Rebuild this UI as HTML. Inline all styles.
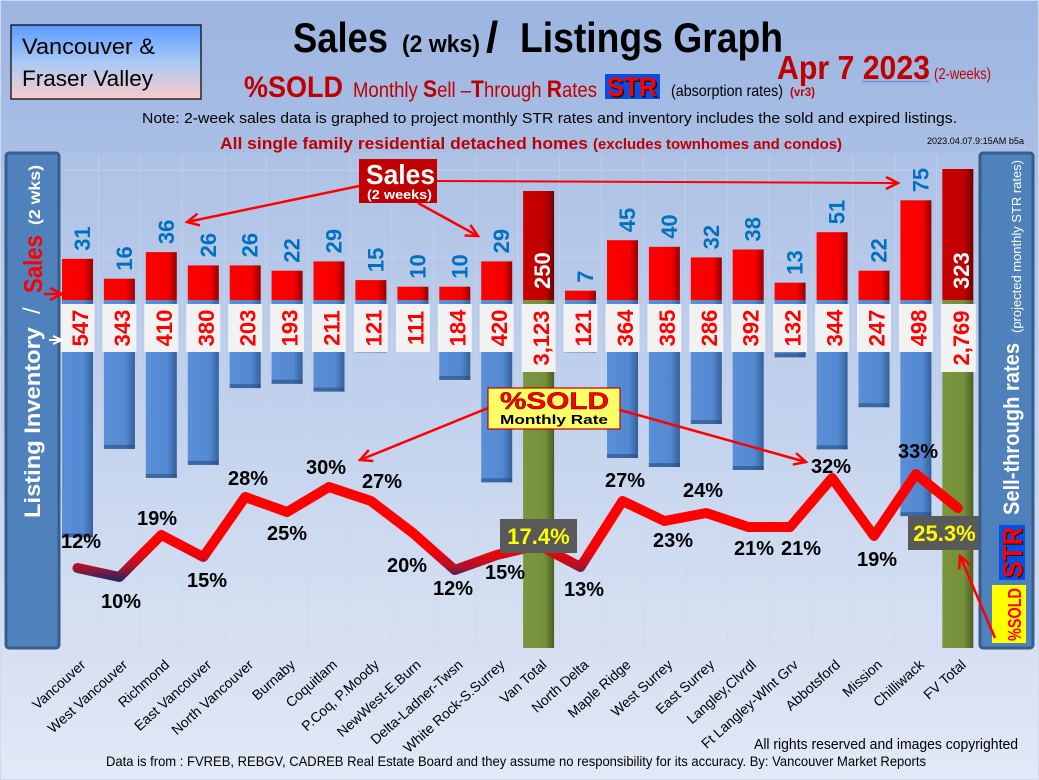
<!DOCTYPE html>
<html><head><meta charset="utf-8">
<style>
html,body{margin:0;padding:0;background:#c0d0ec}
svg{display:block}
.s{font-family:"Liberation Sans",sans-serif;font-weight:bold;font-size:22px;fill:#0070c0}
.i{font-family:"Liberation Sans",sans-serif;font-weight:bold;font-size:22px;fill:#ff0000;text-anchor:middle}
.p{font-family:"Liberation Sans",sans-serif;font-weight:bold;font-size:20px;fill:#000}
.c{font-family:"Liberation Sans",sans-serif;font-size:14px;fill:#000;text-anchor:end}
</style></head>
<body>
<svg width="1039" height="780" viewBox="0 0 1039 780" xmlns="http://www.w3.org/2000/svg" font-family="Liberation Sans, sans-serif">
<defs>
<linearGradient id="bg" x1="0" y1="0" x2="0" y2="1">
<stop offset="0" stop-color="#9cb5e1"/><stop offset="0.45" stop-color="#b9cbea"/><stop offset="1" stop-color="#e2e9f6"/>
</linearGradient>
<linearGradient id="vbox" x1="0" y1="0" x2="0" y2="1">
<stop offset="0" stop-color="#5a9aff"/><stop offset="0.5" stop-color="#a9c9f6"/><stop offset="1" stop-color="#fbcaca"/>
</linearGradient>
<linearGradient id="red" x1="0" y1="0" x2="1" y2="0">
<stop offset="0" stop-color="#ff0000"/><stop offset="0.72" stop-color="#f60000"/><stop offset="1" stop-color="#960000"/>
</linearGradient>
<linearGradient id="dred" x1="0" y1="0" x2="1" y2="0">
<stop offset="0" stop-color="#c80000"/><stop offset="0.72" stop-color="#c00000"/><stop offset="1" stop-color="#6a0000"/>
</linearGradient>
<linearGradient id="blue" x1="0" y1="0" x2="1" y2="0">
<stop offset="0" stop-color="#5b8fd7"/><stop offset="0.7" stop-color="#5389d2"/><stop offset="1" stop-color="#33609a"/>
</linearGradient>
<linearGradient id="green" x1="0" y1="0" x2="1" y2="0">
<stop offset="0" stop-color="#7a963e"/><stop offset="0.7" stop-color="#74903a"/><stop offset="1" stop-color="#4a5e22"/>
</linearGradient>
<linearGradient id="lineg" gradientUnits="userSpaceOnUse" x1="0" y1="470" x2="0" y2="582">
<stop offset="0" stop-color="#ff0000"/><stop offset="0.70" stop-color="#ff0000"/><stop offset="0.86" stop-color="#b3102a"/><stop offset="0.96" stop-color="#40205c"/><stop offset="1" stop-color="#302060"/>
</linearGradient>
<marker id="ah" markerUnits="userSpaceOnUse" markerWidth="16" markerHeight="16" viewBox="0 0 16 16" refX="14" refY="8" orient="auto">
<path d="M2,2 L14,8 L2,14" fill="none" stroke="#ff0000" stroke-width="2.5"/>
</marker>
<marker id="ahw" markerUnits="userSpaceOnUse" markerWidth="12" markerHeight="12" viewBox="0 0 12 12" refX="11" refY="6" orient="auto">
<path d="M2,2 L11,6 L2,10" fill="none" stroke="#ffffff" stroke-width="2"/>
</marker>
</defs>

<rect x="0" y="0" width="1039" height="780" fill="url(#bg)"/>
<rect x="0.5" y="0.5" width="1038" height="779" fill="none" stroke="#cfdaf0" stroke-width="1"/>

<!-- plot area -->
<rect x="57" y="153" width="922" height="495" fill="#ffffff" opacity="0.06"/>
<g stroke="#c9d7ee" stroke-width="1" opacity="0.6">
<line x1="98.5" y1="155" x2="98.5" y2="648"/><line x1="140.4" y1="155" x2="140.4" y2="648"/><line x1="182.3" y1="155" x2="182.3" y2="648"/><line x1="224.2" y1="155" x2="224.2" y2="648"/><line x1="266.1" y1="155" x2="266.1" y2="648"/><line x1="308" y1="155" x2="308" y2="648"/><line x1="350" y1="155" x2="350" y2="648"/><line x1="391.9" y1="155" x2="391.9" y2="648"/><line x1="433.8" y1="155" x2="433.8" y2="648"/><line x1="475.7" y1="155" x2="475.7" y2="648"/><line x1="517.6" y1="155" x2="517.6" y2="648"/><line x1="559.6" y1="155" x2="559.6" y2="648"/><line x1="601.5" y1="155" x2="601.5" y2="648"/><line x1="643.4" y1="155" x2="643.4" y2="648"/><line x1="685.3" y1="155" x2="685.3" y2="648"/><line x1="727.2" y1="155" x2="727.2" y2="648"/><line x1="769.2" y1="155" x2="769.2" y2="648"/><line x1="811.1" y1="155" x2="811.1" y2="648"/><line x1="853" y1="155" x2="853" y2="648"/><line x1="894.9" y1="155" x2="894.9" y2="648"/><line x1="936.8" y1="155" x2="936.8" y2="648"/>
<line x1="57" y1="170" x2="979" y2="170"/><line x1="57" y1="258" x2="979" y2="258"/><line x1="57" y1="343" x2="979" y2="343"/><line x1="57" y1="388" x2="979" y2="388"/><line x1="57" y1="473" x2="979" y2="473"/><line x1="57" y1="558" x2="979" y2="558"/><line x1="57" y1="646" x2="979" y2="646"/>
</g>

<!-- header -->
<rect x="11" y="25" width="190" height="74" fill="url(#vbox)" stroke="#000" stroke-width="1.2"/>
<text x="22" y="54" font-size="22" textLength="133" lengthAdjust="spacingAndGlyphs">Vancouver &amp;</text>
<text x="22" y="86" font-size="22" textLength="131" lengthAdjust="spacingAndGlyphs">Fraser Valley</text>

<text x="293" y="52" font-size="42" font-weight="bold" textLength="95" lengthAdjust="spacingAndGlyphs">Sales</text>
<text x="402" y="52" font-size="24" font-weight="bold" textLength="78" lengthAdjust="spacingAndGlyphs">(2 wks)</text>
<text x="486" y="52" font-size="44" font-weight="bold">/</text>
<text x="520" y="52" font-size="42" font-weight="bold" textLength="263" lengthAdjust="spacingAndGlyphs">Listings Graph</text>

<text x="244" y="97" font-size="30" font-weight="bold" fill="#c00000" textLength="99" lengthAdjust="spacingAndGlyphs">%SOLD</text>
<text x="353" y="97" font-size="21" fill="#c00000" textLength="244" lengthAdjust="spacingAndGlyphs">Monthly <tspan font-weight="bold" font-size="24">S</tspan>ell –<tspan font-weight="bold" font-size="24">T</tspan>hrough <tspan font-weight="bold" font-size="24">R</tspan>ates</text>
<rect x="605" y="74" width="55" height="25" fill="#0050e6"/>
<text x="608.5" y="97.5" font-size="27" font-weight="bold" fill="#3a0000" textLength="50" lengthAdjust="spacingAndGlyphs">STR</text>
<text x="607" y="96" font-size="27" font-weight="bold" fill="#ff0000" textLength="50" lengthAdjust="spacingAndGlyphs">STR</text>
<text x="671" y="96" font-size="16" textLength="112" lengthAdjust="spacingAndGlyphs">(absorption rates)</text>
<text x="790" y="96" font-size="12" font-weight="bold" fill="#c00000" textLength="25" lengthAdjust="spacingAndGlyphs">(vr3)</text>

<text x="777" y="79" font-size="33" font-weight="bold" fill="#c00000" textLength="153" lengthAdjust="spacingAndGlyphs">Apr 7 2023</text>
<line x1="862" y1="81.5" x2="930" y2="81.5" stroke="#6e8fd0" stroke-width="1.5"/>
<line x1="862" y1="84.5" x2="930" y2="84.5" stroke="#9ab8ec" stroke-width="1.5"/>
<text x="934" y="79" font-size="16" fill="#c00000" textLength="57" lengthAdjust="spacingAndGlyphs">(2-weeks)</text>

<text x="142" y="123" font-size="15" textLength="815" lengthAdjust="spacingAndGlyphs">Note: 2-week sales data is graphed to project monthly STR rates and inventory includes the sold and expired listings.</text>
<text x="220" y="149" font-size="16.5" font-weight="bold" fill="#c00000" textLength="368" lengthAdjust="spacingAndGlyphs">All single family residential detached homes</text>
<text x="593" y="149" font-size="14.5" font-weight="bold" fill="#c00000" textLength="249" lengthAdjust="spacingAndGlyphs">(excludes townhomes and condos)</text>
<text x="927" y="144" font-size="9.5" textLength="97" lengthAdjust="spacingAndGlyphs">2023.04.07.9:15AM b5a</text>

<!-- blue inventory bars -->
<g fill="url(#blue)">
<rect x="62" y="300" width="31" height="237.4"/>
<rect x="103.9" y="300" width="31" height="148.9"/>
<rect x="145.8" y="300" width="31" height="177.9"/>
<rect x="187.8" y="300" width="31" height="164.9"/>
<rect x="229.7" y="300" width="31" height="88.1"/>
<rect x="271.6" y="300" width="31" height="83.8"/>
<rect x="313.5" y="300" width="31" height="91.6"/>
<rect x="355.4" y="300" width="31" height="52.5"/>
<rect x="397.4" y="300" width="31" height="48.2"/>
<rect x="439.3" y="300" width="31" height="79.9"/>
<rect x="481.2" y="300" width="31" height="182.3"/>
<rect x="565" y="300" width="31" height="52.5"/>
<rect x="607" y="300" width="31" height="158"/>
<rect x="648.9" y="300" width="31" height="167"/>
<rect x="690.8" y="300" width="31" height="124"/>
<rect x="732.7" y="300" width="31" height="170"/>
<rect x="774.6" y="300" width="31" height="57.3"/>
<rect x="816.6" y="300" width="31" height="149.3"/>
<rect x="858.5" y="300" width="31" height="107.2"/>
<rect x="900.4" y="300" width="31" height="216.1"/>
</g>
<g fill="#24497a" opacity="0.55">
<rect x="62" y="533.4" width="31" height="4"/>
<rect x="103.9" y="444.9" width="31" height="4"/>
<rect x="145.8" y="473.9" width="31" height="4"/>
<rect x="187.8" y="460.9" width="31" height="4"/>
<rect x="229.7" y="384.1" width="31" height="4"/>
<rect x="271.6" y="379.8" width="31" height="4"/>
<rect x="313.5" y="387.6" width="31" height="4"/>
<rect x="439.3" y="375.9" width="31" height="4"/>
<rect x="481.2" y="478.3" width="31" height="4"/>
<rect x="607" y="454" width="31" height="4"/>
<rect x="648.9" y="463" width="31" height="4"/>
<rect x="690.8" y="420" width="31" height="4"/>
<rect x="732.7" y="466" width="31" height="4"/>
<rect x="774.6" y="353.3" width="31" height="4"/>
<rect x="816.6" y="445.3" width="31" height="4"/>
<rect x="858.5" y="403.2" width="31" height="4"/>
<rect x="900.4" y="512.1" width="31" height="4"/>
</g>
<!-- green totals -->
<rect x="523.1" y="300" width="31" height="348" fill="url(#green)"/>
<rect x="942.3" y="300" width="31" height="348" fill="url(#green)"/>

<!-- red sales bars -->
<g fill="url(#red)">
<rect x="62" y="258.8" width="31" height="41.2"/>
<rect x="103.9" y="278.7" width="31" height="21.3"/>
<rect x="145.8" y="252.1" width="31" height="47.9"/>
<rect x="187.8" y="265.4" width="31" height="34.6"/>
<rect x="229.7" y="265.4" width="31" height="34.6"/>
<rect x="271.6" y="270.7" width="31" height="29.3"/>
<rect x="313.5" y="261.4" width="31" height="38.6"/>
<rect x="355.4" y="280.1" width="31" height="19.9"/>
<rect x="397.4" y="286.7" width="31" height="13.3"/>
<rect x="439.3" y="286.7" width="31" height="13.3"/>
<rect x="481.2" y="261.4" width="31" height="38.6"/>
<rect x="565" y="290.7" width="31" height="9.3"/>
<rect x="607" y="240.2" width="31" height="59.8"/>
<rect x="648.9" y="246.8" width="31" height="53.2"/>
<rect x="690.8" y="257.4" width="31" height="42.6"/>
<rect x="732.7" y="249.5" width="31" height="50.5"/>
<rect x="774.6" y="282.7" width="31" height="17.3"/>
<rect x="816.6" y="232.2" width="31" height="67.8"/>
<rect x="858.5" y="270.7" width="31" height="29.3"/>
<rect x="900.4" y="200.3" width="31" height="99.7"/>
</g>
<rect x="523.1" y="191" width="31" height="109" fill="url(#dred)"/>
<rect x="942.3" y="169" width="31" height="131" fill="url(#dred)"/>

<!-- sales labels -->
<text class="s" transform="translate(90,250.8) rotate(-90)">31</text>
<text class="s" transform="translate(131.9,270.7) rotate(-90)">16</text>
<text class="s" transform="translate(173.8,244.1) rotate(-90)">36</text>
<text class="s" transform="translate(215.8,257.4) rotate(-90)">26</text>
<text class="s" transform="translate(257.7,257.4) rotate(-90)">26</text>
<text class="s" transform="translate(299.6,262.7) rotate(-90)">22</text>
<text class="s" transform="translate(341.5,253.4) rotate(-90)">29</text>
<text class="s" transform="translate(383.4,272.1) rotate(-90)">15</text>
<text class="s" transform="translate(425.4,278.7) rotate(-90)">10</text>
<text class="s" transform="translate(467.3,278.7) rotate(-90)">10</text>
<text class="s" transform="translate(509.2,253.4) rotate(-90)">29</text>
<text class="s" transform="translate(550,289) rotate(-90)" style="fill:#ffffff">250</text>
<text class="s" transform="translate(593,282.7) rotate(-90)">7</text>
<text class="s" transform="translate(635,232.2) rotate(-90)">45</text>
<text class="s" transform="translate(676.9,238.8) rotate(-90)">40</text>
<text class="s" transform="translate(718.8,249.4) rotate(-90)">32</text>
<text class="s" transform="translate(760.7,241.5) rotate(-90)">38</text>
<text class="s" transform="translate(802.6,274.7) rotate(-90)">13</text>
<text class="s" transform="translate(844.6,224.2) rotate(-90)">51</text>
<text class="s" transform="translate(886.5,262.7) rotate(-90)">22</text>
<text class="s" transform="translate(928.4,192.3) rotate(-90)">75</text>
<text class="s" transform="translate(969,289) rotate(-90)" style="fill:#ffffff">323</text>

<!-- inventory label boxes -->
<g fill="#f2f2f2">
<rect x="60.5" y="304" width="34" height="48"/>
<rect x="102.4" y="304" width="34" height="48"/>
<rect x="144.3" y="304" width="34" height="48"/>
<rect x="186.3" y="304" width="34" height="48"/>
<rect x="228.2" y="304" width="34" height="48"/>
<rect x="270.1" y="304" width="34" height="48"/>
<rect x="312" y="304" width="34" height="48"/>
<rect x="353.9" y="304" width="34" height="48"/>
<rect x="395.9" y="304" width="34" height="48"/>
<rect x="437.8" y="304" width="34" height="48"/>
<rect x="479.7" y="304" width="34" height="48"/>
<rect x="521.6" y="304" width="34" height="68"/>
<rect x="563.5" y="304" width="34" height="48"/>
<rect x="605.5" y="304" width="34" height="48"/>
<rect x="647.4" y="304" width="34" height="48"/>
<rect x="689.3" y="304" width="34" height="48"/>
<rect x="731.2" y="304" width="34" height="48"/>
<rect x="773.1" y="304" width="34" height="48"/>
<rect x="815.1" y="304" width="34" height="48"/>
<rect x="857" y="304" width="34" height="48"/>
<rect x="898.9" y="304" width="34" height="48"/>
<rect x="940.8" y="304" width="35" height="68"/>
</g>
<text class="i" transform="translate(88,328) rotate(-90)">547</text>
<text class="i" transform="translate(129.9,328) rotate(-90)">343</text>
<text class="i" transform="translate(171.8,328) rotate(-90)">410</text>
<text class="i" transform="translate(213.8,328) rotate(-90)">380</text>
<text class="i" transform="translate(255.7,328) rotate(-90)">203</text>
<text class="i" transform="translate(297.6,328) rotate(-90)">193</text>
<text class="i" transform="translate(339.5,328) rotate(-90)">211</text>
<text class="i" transform="translate(381.4,328) rotate(-90)">121</text>
<text class="i" transform="translate(423.4,328) rotate(-90)">111</text>
<text class="i" transform="translate(465.3,328) rotate(-90)">184</text>
<text class="i" transform="translate(507.2,328) rotate(-90)">420</text>
<text class="i" transform="translate(549.1,338) rotate(-90)">3,123</text>
<text class="i" transform="translate(591,328) rotate(-90)">121</text>
<text class="i" transform="translate(633,328) rotate(-90)">364</text>
<text class="i" transform="translate(674.9,328) rotate(-90)">385</text>
<text class="i" transform="translate(716.8,328) rotate(-90)">286</text>
<text class="i" transform="translate(758.7,328) rotate(-90)">392</text>
<text class="i" transform="translate(800.6,328) rotate(-90)">132</text>
<text class="i" transform="translate(842.6,328) rotate(-90)">344</text>
<text class="i" transform="translate(884.5,328) rotate(-90)">247</text>
<text class="i" transform="translate(926.4,328) rotate(-90)">498</text>
<text class="i" transform="translate(968.8,338) rotate(-90)">2,769</text>

<!-- %SOLD line -->
<polyline points="77.5,568 119.4,577 161.3,535 203.3,557 245.2,497 287.1,512 329,487 370.9,501 412.9,533 454.8,570 496.7,555 538.6,545 580.5,567 622.5,501 664.4,521 706.3,513 748.2,527 790.1,527 832.1,478 874,536 915.9,474 957.8,508" fill="none" stroke="url(#lineg)" stroke-width="10" stroke-linejoin="round" stroke-linecap="round"/>

<!-- percent labels -->
<text class="p" x="61" y="548">12%</text>
<text class="p" x="101" y="608">10%</text>
<text class="p" x="137" y="525">19%</text>
<text class="p" x="187" y="587">15%</text>
<text class="p" x="228" y="485">28%</text>
<text class="p" x="267" y="540">25%</text>
<text class="p" x="306" y="474">30%</text>
<text class="p" x="362" y="488">27%</text>
<text class="p" x="387" y="572">20%</text>
<text class="p" x="433" y="595">12%</text>
<text class="p" x="485" y="579">15%</text>
<text class="p" x="564" y="596">13%</text>
<text class="p" x="605" y="487">27%</text>
<text class="p" x="653" y="547">23%</text>
<text class="p" x="683" y="497">24%</text>
<text class="p" x="734" y="555">21%</text>
<text class="p" x="781" y="555">21%</text>
<text class="p" x="811" y="473">32%</text>
<text class="p" x="857" y="566">19%</text>
<text class="p" x="898" y="458">33%</text>

<rect x="500" y="519" width="77" height="34" fill="#595959"/>
<text x="538.5" y="544" font-size="22" font-weight="bold" fill="#ffff00" text-anchor="middle">17.4%</text>
<rect x="908" y="516" width="73" height="34" fill="#595959"/>
<text x="944.5" y="541" font-size="22" font-weight="bold" fill="#ffff00" text-anchor="middle">25.3%</text>

<!-- callouts -->
<line x1="359" y1="186" x2="187" y2="222" stroke="#ff0000" stroke-width="2.5" marker-end="url(#ah)"/>
<line x1="418" y1="203" x2="478" y2="236" stroke="#ff0000" stroke-width="2.5" marker-end="url(#ah)"/>
<line x1="437" y1="181" x2="898" y2="183" stroke="#ff0000" stroke-width="2" marker-end="url(#ah)"/>
<rect x="359" y="159" width="78" height="44" fill="#c00000"/>
<text x="366" y="184" font-size="28" font-weight="bold" fill="#ffffff" textLength="69" lengthAdjust="spacingAndGlyphs">Sales</text>
<text x="367" y="199" font-size="13" font-weight="bold" fill="#ffffff" textLength="65" lengthAdjust="spacingAndGlyphs">(2 weeks)</text>

<line x1="488" y1="408" x2="360" y2="460" stroke="#ff0000" stroke-width="2.5" marker-end="url(#ah)"/>
<line x1="620" y1="410" x2="806" y2="462" stroke="#ff0000" stroke-width="2.5" marker-end="url(#ah)"/>
<rect x="488" y="388" width="132" height="41" fill="#ffff66" stroke="#c00000" stroke-width="1.2"/>
<text x="500" y="409" font-size="24" font-weight="bold" fill="#ff0000" stroke="#7a0000" stroke-width="0.5" textLength="109" lengthAdjust="spacingAndGlyphs">%SOLD</text>
<text x="500" y="424" font-size="12.5" font-weight="bold" fill="#000" textLength="108" lengthAdjust="spacingAndGlyphs">Monthly Rate</text>

<!-- left panel -->
<rect x="6" y="153" width="53" height="495" rx="3" fill="#4f81bd" stroke="#385d8a" stroke-width="3"/>
<text transform="translate(40,518) rotate(-90)" font-size="22" font-weight="bold" fill="#ffffff" textLength="191" lengthAdjust="spacingAndGlyphs">Listing Inventory</text>
<text transform="translate(40,314) rotate(-90)" font-size="24" fill="#ffffff">/</text>
<text transform="translate(42,293) rotate(-90)" font-size="26" font-weight="bold" fill="#ff0000" textLength="58" lengthAdjust="spacingAndGlyphs">Sales</text>
<text transform="translate(40,225) rotate(-90)" font-size="16" font-weight="bold" fill="#ffffff" textLength="60" lengthAdjust="spacingAndGlyphs">(2 wks)</text>
<line x1="44" y1="294" x2="62" y2="294" stroke="#ff0000" stroke-width="2.5" marker-end="url(#ah)"/>
<line x1="49" y1="340" x2="62" y2="340" stroke="#ffffff" stroke-width="2" marker-end="url(#ahw)"/>

<!-- right panel -->
<rect x="980" y="153" width="53" height="495" rx="3" fill="#4f81bd" stroke="#385d8a" stroke-width="3"/>
<text transform="translate(1019,515) rotate(-90)" font-size="22" font-weight="bold" fill="#ffffff" textLength="172" lengthAdjust="spacingAndGlyphs">Sell-through rates</text>
<text transform="translate(1021,333) rotate(-90)" font-size="13" fill="#ffffff" textLength="173" lengthAdjust="spacingAndGlyphs">(projected monthly STR rates)</text>
<rect x="999" y="525" width="26" height="55" fill="#0050e6"/>
<text transform="translate(1023,579) rotate(-90)" font-size="28" font-weight="bold" fill="#3a0000" textLength="51" lengthAdjust="spacingAndGlyphs">STR</text>
<text transform="translate(1022,578) rotate(-90)" font-size="28" font-weight="bold" fill="#ff0000" textLength="51" lengthAdjust="spacingAndGlyphs">STR</text>
<rect x="992" y="585" width="34" height="58" fill="#ffff00"/>
<text transform="translate(1021,641) rotate(-90)" font-size="18" font-weight="bold" fill="#ff0000" textLength="53" lengthAdjust="spacingAndGlyphs">%SOLD</text>
<line x1="995" y1="638" x2="960" y2="556" stroke="#ff0000" stroke-width="2.5" marker-end="url(#ah)"/>

<!-- category labels -->
<text class="c" transform="translate(86.5,666) rotate(-42)">Vancouver</text>
<text class="c" transform="translate(128.4,666) rotate(-42)">West Vancouver</text>
<text class="c" transform="translate(170.3,666) rotate(-42)">Richmond</text>
<text class="c" transform="translate(212.3,666) rotate(-42)">East Vancouver</text>
<text class="c" transform="translate(254.2,666) rotate(-42)">North Vancouver</text>
<text class="c" transform="translate(296.1,666) rotate(-42)">Burnaby</text>
<text class="c" transform="translate(338,666) rotate(-42)">Coquitlam</text>
<text class="c" transform="translate(379.9,666) rotate(-42)">P.Coq, P.Moody</text>
<text class="c" transform="translate(421.9,666) rotate(-42)">NewWest-E.Burn</text>
<text class="c" transform="translate(463.8,666) rotate(-42)">Delta-Ladner-Twsn</text>
<text class="c" transform="translate(505.7,666) rotate(-42)">White Rock-S.Surrey</text>
<text class="c" transform="translate(547.6,666) rotate(-42)">Van Total</text>
<text class="c" transform="translate(589.5,666) rotate(-42)">North Delta</text>
<text class="c" transform="translate(631.5,666) rotate(-42)">Maple Ridge</text>
<text class="c" transform="translate(673.4,666) rotate(-42)">West Surrey</text>
<text class="c" transform="translate(715.3,666) rotate(-42)">East Surrey</text>
<text class="c" transform="translate(757.2,666) rotate(-42)">Langley,Clvrdl</text>
<text class="c" transform="translate(799.1,666) rotate(-42)">Ft Langley-Wlnt Grv</text>
<text class="c" transform="translate(841.1,666) rotate(-42)">Abbotsford</text>
<text class="c" transform="translate(883,666) rotate(-42)">Mission</text>
<text class="c" transform="translate(924.9,666) rotate(-42)">Chilliwack</text>
<text class="c" transform="translate(966.8,666) rotate(-42)">FV Total</text>

<!-- footer -->
<text x="754" y="749" font-size="14.5" textLength="264" lengthAdjust="spacingAndGlyphs">All rights reserved and  images copyrighted</text>
<text x="106" y="766" font-size="14" textLength="820" lengthAdjust="spacingAndGlyphs">Data is from : FVREB, REBGV, CADREB Real Estate Board and they assume no responsibility for its accuracy. By: Vancouver Market Reports</text>
</svg>
</body></html>
